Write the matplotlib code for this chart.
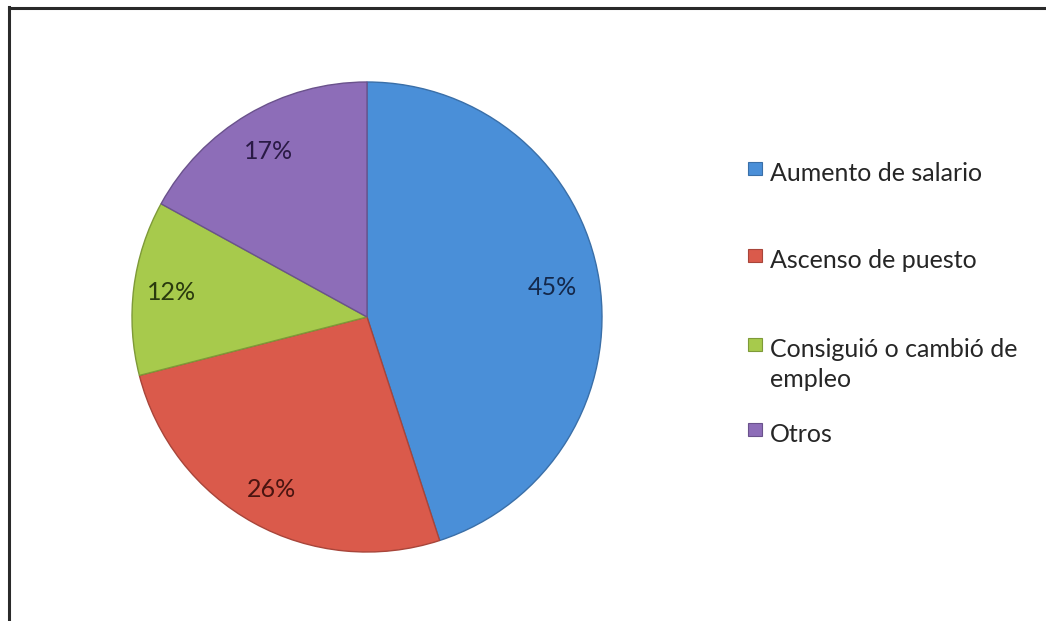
import numpy as np
import matplotlib.pyplot as plt
from matplotlib.patches import Rectangle

# datos del gráfico
categorias = ['Aumento de salario', 'Ascenso de puesto',
              'Consiguió o cambió de\nempleo', 'Otros']
valores = [45, 26, 12, 17]
colores = ['#4A8FD8', '#DA5A4B', '#A7CA4C', '#8D6DB8']
bordes = ['#3A6FA8', '#A8453A', '#7E9A38', '#6A528C']
color_etiqueta = ['#14284A', '#4A1410', '#2A3A0E', '#2A1A45']
dist_etiqueta = [0.80, 0.84, 0.84, 0.82]

plt.rcParams['font.family'] = ['Lato', 'DejaVu Sans']

fig = plt.figure(figsize=(10.46, 6.21), dpi=100)
W, H = 1046, 621

# marco exterior
fig.add_artist(plt.Line2D([9 / W, 9 / W], [0, 1 - 7 / H], color='#2a2a2a', lw=2.2))
fig.add_artist(plt.Line2D([9 / W, 1], [1 - 7.5 / H, 1 - 7.5 / H], color='#2a2a2a', lw=2.2))

ax = fig.add_axes([132 / W, 69 / H, 470 / W, 470 / H])
wedges, _ = ax.pie(valores, colors=colores, startangle=90, counterclock=False,
                   radius=1, wedgeprops=dict(linewidth=1.0))
for w, b in zip(wedges, bordes):
    w.set_edgecolor(b)

for i, w in enumerate(wedges):
    ang = np.deg2rad((w.theta1 + w.theta2) / 2)
    d = dist_etiqueta[i]
    ax.text(d * np.cos(ang), d * np.sin(ang), '%d%%' % valores[i],
            ha='center', va='center', fontsize=18, color=color_etiqueta[i])
ax.set_xlim(-1.0, 1.0)
ax.set_ylim(-1.0, 1.0)
ax.set_aspect('equal')

# leyenda manual (línea base de cada fila, en píxeles desde arriba)
filas_base = [181, 268, 357, 442]
for i, cat in enumerate(categorias):
    yb = filas_base[i]
    fig.add_artist(Rectangle((748 / W, 1 - (yb - 6) / H), 14 / W, 13 / H,
                             facecolor=colores[i], edgecolor=bordes[i], lw=0.8))
    for k, linea in enumerate(cat.split('\n')):
        fig.text(770 / W, 1 - (yb + 30 * k) / H, linea, fontsize=18,
                 color='#262626', ha='left', va='baseline')

fig.savefig('out.png', dpi=100)
